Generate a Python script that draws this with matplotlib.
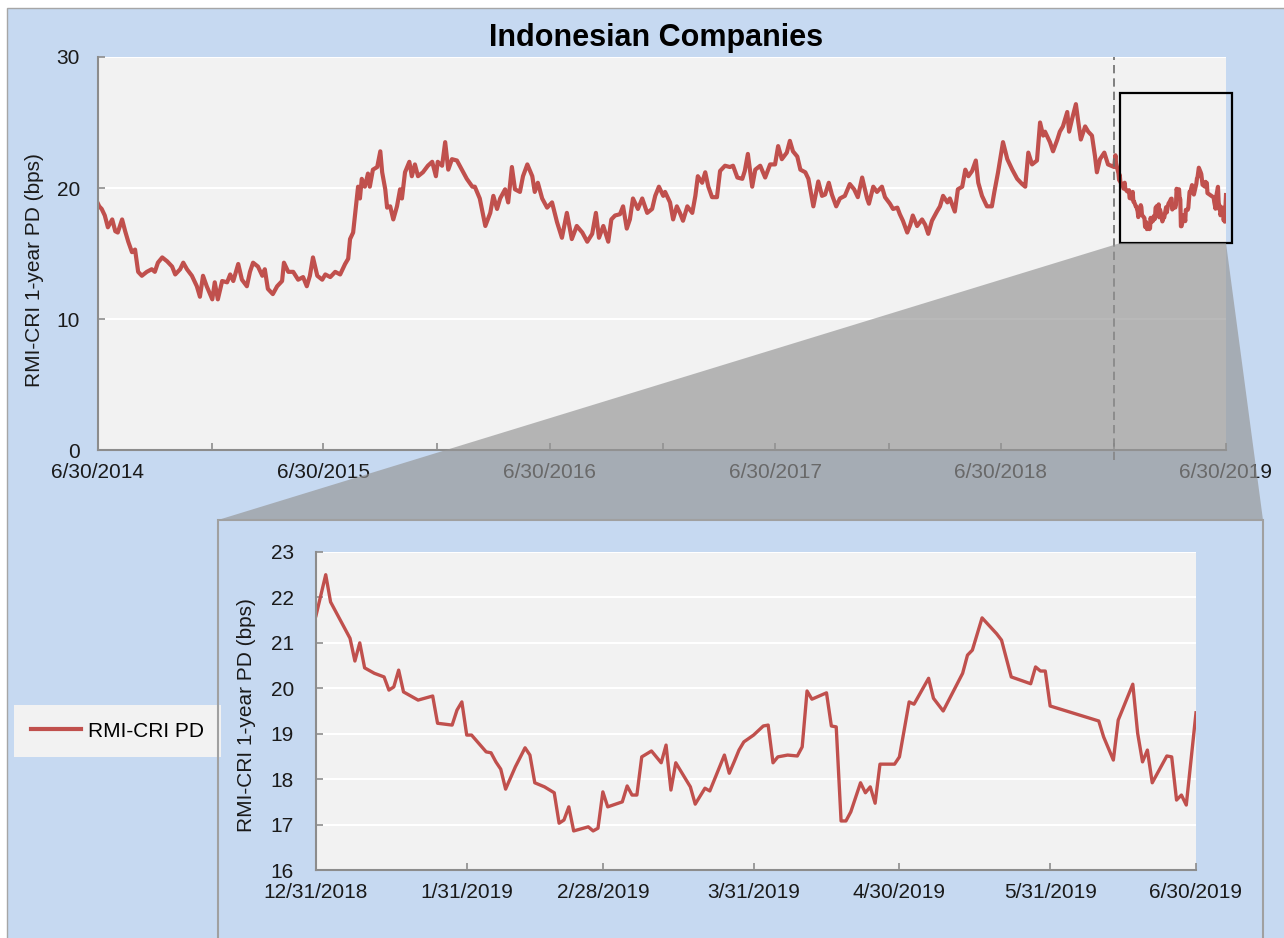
import matplotlib.pyplot as plt
import matplotlib.dates as mdates
import pandas as pd
from matplotlib.patches import Rectangle, Polygon
from matplotlib.ticker import FuncFormatter

plt.rcParams['font.family'] = ['Liberation Sans', 'DejaVu Sans']

RED = '#c0504d'
BG = '#c6d9f1'
PLOT_BG = '#f2f2f2'
SPINE = '#8c8c8c'
TXT = '#1a1a1a'

# full history, days counted from top_start
top_start = '2014-06-30'
top_end = '2019-06-30'
top_days = [
    0, 2, 6, 11, 16, 23, 28, 32, 39, 44,
    49, 55, 60, 65, 71, 79, 87, 92, 97, 104,
    112, 120, 125, 133, 138, 144, 152, 160, 165, 170,
    176, 185, 189, 194, 201, 209, 214, 219, 227, 233,
    241, 246, 251, 259, 266, 270, 275, 283, 290, 298,
    301, 308, 316, 324, 332, 338, 343, 348, 355, 363,
    368, 376, 384, 392, 400, 405, 408, 413, 416, 421,
    424, 427, 432, 437, 440, 445, 452, 457, 460, 465,
    468, 473, 478, 484, 489, 492, 497, 504, 508, 513,
    518, 526, 534, 541, 547, 550, 557, 562, 567, 573,
    581, 589, 597, 606, 610, 618, 627, 635, 640, 646,
    651, 659, 664, 670, 675, 683, 688, 695, 703, 707,
    712, 719, 727, 735, 743, 751, 759, 767, 775, 784,
    792, 800, 806, 811, 818, 826, 831, 837, 845, 850,
    856, 861, 866, 874, 881, 889, 897, 902, 908, 915,
    918, 926, 931, 937, 942, 947, 954, 962, 967, 971,
    978, 983, 988, 994, 1002, 1007, 1015, 1023, 1028, 1035,
    1043, 1047, 1052, 1059, 1064, 1072, 1080, 1088, 1096, 1101,
    1107, 1115, 1120, 1125, 1132, 1137, 1145, 1150, 1158, 1166,
    1172, 1177, 1183, 1188, 1195, 1201, 1209, 1217, 1224, 1230,
    1237, 1245, 1248, 1255, 1261, 1269, 1274, 1282, 1287, 1294,
    1298, 1303, 1310, 1315, 1319, 1326, 1334, 1339, 1344, 1350,
    1358, 1363, 1368, 1375, 1379, 1387, 1392, 1399, 1404, 1409,
    1415, 1421, 1425, 1431, 1439, 1447, 1451, 1457, 1465, 1472,
    1480, 1488, 1496, 1501, 1506, 1512, 1520, 1525, 1530, 1533,
    1541, 1546, 1553, 1557, 1562, 1569, 1572, 1577, 1583, 1587,
    1591, 1598, 1603, 1609, 1614, 1617, 1622, 1629, 1635,
]
top_vals = [
    18.8, 18.6, 18.4, 17.9, 17.0, 17.6, 16.7, 16.6, 17.6, 16.7,
    15.9, 15.1, 15.3, 13.6, 13.3, 13.6, 13.8, 13.6, 14.3, 14.7,
    14.4, 14.0, 13.4, 13.8, 14.3, 13.8, 13.3, 12.5, 11.7, 13.3,
    12.5, 11.5, 12.8, 11.5, 12.9, 12.8, 13.4, 12.9, 14.2, 13.0,
    12.5, 13.6, 14.3, 14.0, 13.3, 13.8, 12.3, 11.9, 12.5, 12.9,
    14.3, 13.6, 13.6, 13.0, 13.2, 12.5, 13.3, 14.7, 13.3, 13.0,
    13.4, 13.2, 13.6, 13.4, 14.2, 14.6, 16.1, 16.6, 17.9, 20.1,
    19.2, 20.7, 20.1, 21.1, 20.1, 21.4, 21.6, 22.8, 21.2, 19.9,
    18.5, 18.6, 17.6, 18.6, 19.9, 19.2, 21.2, 22.0, 20.9, 21.8,
    20.9, 21.2, 21.7, 22.0, 20.9, 22.0, 21.7, 23.5, 21.4, 22.2,
    22.1, 21.4, 20.7, 20.1, 20.1, 19.2, 17.1, 18.1, 19.4, 18.4,
    19.2, 19.9, 18.9, 21.6, 19.9, 19.7, 20.9, 21.8, 20.9, 19.7,
    20.4, 19.2, 18.5, 18.9, 17.4, 16.2, 18.1, 16.1, 17.1, 16.6,
    15.9, 16.5, 18.1, 16.2, 17.1, 15.9, 17.6, 17.9, 18.0, 18.6,
    16.9, 17.6, 19.2, 18.4, 19.2, 18.1, 18.4, 19.4, 20.1, 19.4,
    19.7, 18.9, 17.6, 18.6, 18.1, 17.5, 18.6, 18.1, 19.4, 20.9,
    20.4, 21.2, 20.1, 19.3, 19.3, 21.3, 21.7, 21.6, 21.7, 20.8,
    20.7, 21.3, 22.6, 20.1, 21.4, 21.7, 20.8, 21.8, 21.8, 23.2,
    22.2, 22.7, 23.6, 22.8, 22.4, 21.4, 21.2, 20.7, 18.6, 20.5,
    19.4, 19.5, 20.4, 19.5, 18.6, 19.2, 19.4, 20.3, 19.9, 19.3,
    20.8, 19.2, 18.8, 20.1, 19.7, 20.1, 19.3, 18.8, 18.4, 18.5,
    18.0, 17.5, 16.6, 17.2, 17.9, 17.1, 17.6, 17.2, 16.5, 17.5,
    18.2, 18.6, 19.4, 18.9, 19.2, 18.2, 19.9, 20.1, 21.4, 20.9,
    21.3, 22.1, 20.4, 19.4, 18.6, 18.6, 19.7, 21.2, 23.5, 22.2,
    21.4, 20.7, 20.3, 20.1, 22.7, 21.8, 22.1, 25.0, 24.0, 24.3,
    23.5, 22.8, 23.7, 24.3, 24.7, 25.8, 24.3, 25.3, 26.4, 25.0,
    23.7, 24.7, 24.3, 24.0, 22.4, 21.2, 22.2, 22.7, 21.8,
]

# last six months, days counted from zoom_start
zoom_start = '2018-12-31'
zoom_days = [
    0, 2, 3, 4, 7, 8, 9, 10, 12, 14,
    15, 16, 17, 18, 21, 24, 25, 28, 29, 30,
    31, 32, 35, 36, 37, 38, 39, 41, 43, 44,
    45, 47, 49, 50, 51, 52, 53, 56, 57, 58,
    59, 60, 63, 64, 65, 66, 67, 69, 71, 72,
    73, 74, 77, 78, 80, 81, 84, 85, 86, 87,
    88, 90, 92, 93, 94, 95, 97, 99, 100, 101,
    102, 105, 106, 107, 108, 109, 110, 112, 113, 114,
    115, 116, 119, 120, 122, 123, 126, 127, 129, 133,
    134, 135, 137, 140, 141, 143, 147, 148, 149, 150,
    151, 161, 162, 164, 165, 168, 169, 170, 171, 172,
    175, 176, 177, 178, 179, 181,
]
zoom_vals = [
    21.60, 22.50, 21.90, 21.70, 21.10, 20.60, 21.00, 20.45, 20.33, 20.25,
    19.96, 20.03, 20.40, 19.92, 19.74, 19.83, 19.23, 19.19, 19.52, 19.70,
    18.97, 18.97, 18.60, 18.58, 18.38, 18.22, 17.78, 18.27, 18.69, 18.53,
    17.92, 17.83, 17.70, 17.03, 17.10, 17.39, 16.86, 16.95, 16.86, 16.92,
    17.72, 17.39, 17.50, 17.85, 17.65, 17.65, 18.49, 18.62, 18.36, 18.75,
    17.76, 18.36, 17.83, 17.45, 17.80, 17.74, 18.53, 18.13, 18.38, 18.64,
    18.82, 18.97, 19.17, 19.19, 18.36, 18.49, 18.53, 18.51, 18.71, 19.94,
    19.76, 19.90, 19.17, 19.15, 17.08, 17.08, 17.28, 17.92, 17.70, 17.83,
    17.47, 18.33, 18.33, 18.49, 19.70, 19.65, 20.22, 19.78, 19.50, 20.33,
    20.73, 20.84, 21.55, 21.20, 21.06, 20.25, 20.10, 20.47, 20.38, 20.38,
    19.61, 19.28, 18.93, 18.42, 19.30, 20.09, 19.01, 18.38, 18.64, 17.92,
    18.51, 18.49, 17.54, 17.65, 17.43, 19.46,
]

top_ticks = ['2014-06-30', '2015-06-30', '2016-06-30', '2017-06-30', '2018-06-30', '2019-06-30']
top_minor = ['2014-12-31', '2015-12-31', '2016-12-31', '2017-12-31', '2018-12-31']
zoom_ticks = ['2018-12-31', '2019-01-31', '2019-02-28', '2019-03-31', '2019-04-30', '2019-05-31', '2019-06-30']

zoom_dates = pd.Timestamp(zoom_start) + pd.to_timedelta(zoom_days, unit='D')
hist_dates = pd.Timestamp(top_start) + pd.to_timedelta(top_days, unit='D')
all_dates = list(hist_dates) + list(zoom_dates)
all_vals = top_vals + zoom_vals

W, H = 1284, 938


def mdy(v, pos):
    d = mdates.num2date(v)
    return f"{d.month}/{d.day}/{d.year}"


def style(ax, ypad):
    ax.set_facecolor(PLOT_BG)
    for s in ['top', 'right']:
        ax.spines[s].set_visible(False)
    for s in ['left', 'bottom']:
        ax.spines[s].set_color(SPINE)
        ax.spines[s].set_linewidth(1.5)
    ax.grid(axis='y', color='white', lw=1.5)
    ax.set_axisbelow(True)
    ax.tick_params(which='both', direction='in', length=5, width=1.2, color=SPINE,
                   labelsize=15, labelcolor=TXT)
    ax.tick_params(axis='x', pad=9)
    ax.tick_params(axis='y', pad=ypad)
    ax.xaxis.set_major_formatter(FuncFormatter(mdy))


fig = plt.figure(figsize=(W / 100, H / 100), dpi=100, facecolor='white')
fig.add_artist(Rectangle((7 / W, -0.01), 1, 1 - 8 / H + 0.01, transform=fig.transFigure,
                         facecolor=BG, edgecolor='#a6a6a6', lw=1, zorder=-10))

# upper panel
ax = fig.add_axes([98 / W, 1 - 450 / H, 1128 / W, 393 / H])
style(ax, 13)
line, = ax.plot(all_dates, all_vals, color=RED, lw=3.0)
ax.set_xlim(pd.Timestamp(top_start), pd.Timestamp(top_end))
ax.set_ylim(0, 30)
ax.set_yticks([0, 10, 20, 30])
ax.set_xticks(pd.to_datetime(top_ticks))
ax.set_xticks(pd.to_datetime(top_minor), minor=True)
ax.set_ylabel('RMI-CRI 1-year PD (bps)', fontsize=15, color=TXT)
ax.yaxis.set_label_coords(-0.0479, 0.458)

split = pd.Timestamp(zoom_start)
ax.plot([split, split], [-0.8, 30], ls=(0, (5, 3)), color='#6b6b6b', lw=1.2,
        clip_on=False, zorder=3)

bx0 = mdates.date2num(pd.Timestamp('2019-01-10'))
bx1 = mdates.date2num(pd.Timestamp('2019-07-10'))
by0, by1 = 15.8, 27.25
ax.add_patch(Rectangle((bx0, by0), bx1 - bx0, by1 - by0, fill=False, ec='black',
                       lw=1.6, clip_on=False, zorder=4))

# zoom wedge from the box down to the lower panel
to_fig = fig.transFigure.inverted()
p_left = to_fig.transform(ax.transData.transform((bx0, by0)))
p_right = to_fig.transform(ax.transData.transform((mdates.date2num(pd.Timestamp(top_end)), by0)))
wedge = Polygon([p_left, p_right, (1263 / W, 1 - 520 / H), (218 / W, 1 - 520 / H)],
                closed=True, transform=fig.transFigure, facecolor='#949494',
                edgecolor='none', alpha=0.65, zorder=5)
fig.add_artist(wedge)
fig.add_artist(Rectangle((218 / W, -0.01), (1263 - 218) / W, (938 - 520) / H + 0.01,
                         transform=fig.transFigure, fill=False, ec='#a0a0a0', lw=1.5, zorder=6))

# lower panel
ax2 = fig.add_axes([316 / W, 1 - 870 / H, 880 / W, 318 / H])
style(ax2, 16)
ax2.plot(zoom_dates, zoom_vals, color=RED, lw=2.4)
ax2.set_xlim(pd.Timestamp(zoom_start), pd.Timestamp(top_end))
ax2.set_ylim(16, 23)
ax2.set_yticks(range(16, 24))
ax2.set_xticks(pd.to_datetime(zoom_ticks))
ax2.set_ylabel('RMI-CRI 1-year PD (bps)', fontsize=15, color=TXT)
ax2.yaxis.set_label_coords(-0.068, 0.487)

fig.text(656 / W, 1 - 46 / H, 'Indonesian Companies', fontsize=22, fontweight='bold',
         ha='center', va='baseline', color='black')

fig.legend([line], ['RMI-CRI PD'], loc='center left', bbox_to_anchor=(14 / W, 1 - 731 / H),
           frameon=True, facecolor=PLOT_BG, edgecolor='none', framealpha=1, fancybox=False,
           fontsize=15, handlelength=2.4, handletextpad=0.35, borderpad=0.8, borderaxespad=0)

fig.savefig('out.png', dpi=100, facecolor=fig.get_facecolor())
